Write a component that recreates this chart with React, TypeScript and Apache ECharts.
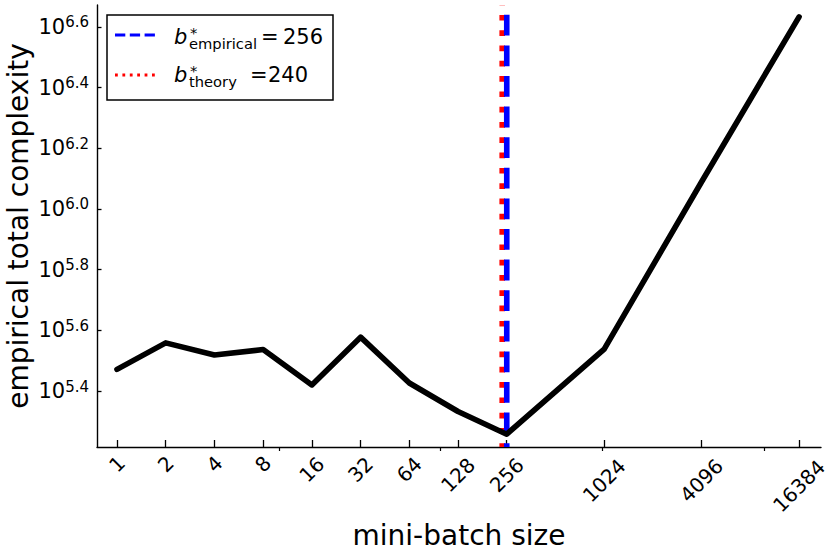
import React, { useEffect, useRef } from "react";
import * as echarts from "echarts";

// ---- data ----
const batchSizes = [1, 2, 4, 8, 16, 32, 64, 128, 256, 1024, 4096, 16384];
const complexity = [296000, 362000, 330000, 344000, 263000, 378000, 267000, 215000, 181000, 345000, 1230000, 4300000];
const xTickValues = [1, 2, 4, 8, 16, 32, 64, 128, 256, 1024, 4096, 16384];
const xMinorTickValues = [10, 100, 1000, 10000];
const yTickExponents = [5.4, 5.6, 5.8, 6.0, 6.2, 6.4, 6.6];
const bEmpirical = 256;
const bTheory = 240;
const legendSubscripts = ["empirical", "theory"];
const legendValues = ["256", "240"];

const X_MIN = Math.pow(2, -0.41);
const X_MAX = Math.pow(2, 14.45);
const Y_MIN = Math.pow(10, 5.2154);
const Y_MAX = Math.pow(10, 6.6725);

const FONT = "DejaVu Sans";

export default function App() {
  const ref = useRef<HTMLDivElement>(null);
  useEffect(() => {
    document.body.style.margin = "0";
    if (!ref.current) return;
    const chart = echarts.init(ref.current, null, { renderer: "svg" });

    const xRich: Record<string, any> = {};
    for (let n = 1; n <= 5; n++) {
      const p = 1.414 * (3.5 + 5.5 * n);
      xRich["l" + n] = { fontSize: 20, fontFamily: FONT, color: "#000", padding: [p, p, 0, 0] };
    }

    const legendGraphics: any[] = [
      {
        type: "rect",
        shape: { x: 107, y: 15, width: 226, height: 85 },
        style: { fill: "#fff", stroke: "#000", lineWidth: 1.5 },
        z: 100,
      },
      {
        type: "line",
        shape: { x1: 115, y1: 35, x2: 158, y2: 35 },
        style: { stroke: "#0000ff", lineWidth: 2.8, lineDash: [10.3, 4.5] },
        z: 101,
      },
      {
        type: "line",
        shape: { x1: 115, y1: 75, x2: 158, y2: 75 },
        style: { stroke: "#ff0000", lineWidth: 2.8, lineDash: [2.8, 4.6] },
        z: 101,
      },
    ];
    const baselines = [44, 82];
    const eqX = [261, 250];
    const valX = [283, 268];
    legendSubscripts.forEach((sub, i) => {
      const B = baselines[i];
      const mid = (base: number, fs: number) => base - 0.346 * fs;
      const txt = (text: string, x: number, base: number, fs: number, italic = false) => ({
        type: "text",
        x,
        y: mid(base, fs),
        z: 102,
        style: {
          text,
          fill: "#000",
          fontSize: fs,
          fontFamily: FONT,
          fontStyle: italic ? "italic" : "normal",
          align: "left",
          verticalAlign: "middle",
        },
      });
      legendGraphics.push(txt("b", 174, B, 21, true));
      // superscript "*" stacked over the subscript, as one two-line rich text
      legendGraphics.push({
        type: "text",
        x: 189,
        y: B - 6.1,
        z: 102,
        style: {
          text: `{sup|*}\n{sub|${sub}}`,
          align: "left",
          verticalAlign: "middle",
          rich: {
            sup: { fontSize: 14.7, fontFamily: FONT, fill: "#000", lineHeight: 11, padding: [0, 0, 0, 1] },
            sub: { fontSize: 14.7, fontFamily: FONT, fill: "#000", lineHeight: 11 },
          },
        },
      });
      legendGraphics.push(txt("=", eqX[i], B, 21));
      legendGraphics.push(txt(legendValues[i], valX[i], B, 21));
    });

    const option: any = {
      animation: false,
      backgroundColor: "#fff",
      grid: { left: 97, right: 9, top: 5, bottom: 107, containLabel: false, outerBoundsMode: "none" },
      xAxis: [
        {
          type: "log",
          logBase: 2,
          min: X_MIN,
          max: X_MAX,
          name: "mini-batch size",
          nameLocation: "middle",
          nameGap: 74,
          nameMoveOverlap: false,
          nameTextStyle: { fontSize: 28, fontFamily: FONT, color: "#000" },
          axisLine: { show: true, onZero: false, lineStyle: { color: "#000", width: 1.4 } },
          axisTick: { show: true, inside: true, length: 7, customValues: xTickValues, lineStyle: { color: "#000", width: 1.3 } },
          axisLabel: {
            customValues: xTickValues,
            rotate: 45,
            align: "center",
            verticalAlign: "middle",
            margin: 8,
            formatter: (v: number) => {
              const t = String(Math.round(v));
              return `{l${t.length}|${t}}`;
            },
            rich: xRich,
          },
          splitLine: { show: false },
          minorTick: { show: false },
        },
        {
          type: "log",
          logBase: 2,
          min: X_MIN,
          max: X_MAX,
          position: "bottom",
          axisLine: { show: false, onZero: false },
          axisTick: { show: true, inside: false, length: 4, customValues: xMinorTickValues, lineStyle: { color: "#000", width: 1.2 } },
          axisLabel: { show: false },
          splitLine: { show: false },
        },
      ],
      yAxis: {
        type: "log",
        logBase: 10,
        min: Y_MIN,
        max: Y_MAX,
        name: "empirical total complexity",
        nameLocation: "middle",
        nameGap: 65,
        nameMoveOverlap: false,
        nameTextStyle: { fontSize: 28, fontFamily: FONT, color: "#000" },
        axisLine: { show: true, lineStyle: { color: "#000", width: 1.4 } },
        axisTick: {
          show: true,
          inside: true,
          length: 4.5,
          customValues: yTickExponents.map((e) => Math.pow(10, e)),
          lineStyle: { color: "#000", width: 1.3 },
        },
        axisLabel: {
          customValues: yTickExponents.map((e) => Math.pow(10, e)),
          margin: 8,
          formatter: (v: number) => `{b|10}{s|${Math.log10(v).toFixed(1)}}`,
          rich: {
            b: { fontSize: 21, fontFamily: FONT, color: "#000" },
            s: { fontSize: 15, fontFamily: FONT, color: "#000", padding: [0, 0, 9, 0] },
          },
        },
        splitLine: { show: false },
      },
      series: [
        {
          type: "line",
          name: "theory",
          data: [
            [bTheory, Y_MIN],
            [bTheory, Y_MAX],
          ],
          symbol: "none",
          silent: true,
          z: 2,
          lineStyle: { color: "#ff0000", width: 5.6, type: [5.7, 9.6], dashOffset: 2.1, cap: "butt" },
        },
        {
          type: "line",
          name: "empirical",
          data: [
            [bEmpirical, Y_MIN],
            [bEmpirical, Y_MAX],
          ],
          symbol: "none",
          silent: true,
          z: 3,
          lineStyle: { color: "#0000ff", width: 5.6, type: [20.8, 9.8], dashOffset: 17.2, cap: "butt" },
        },
        {
          type: "line",
          name: "complexity",
          data: batchSizes.map((b, i) => [b, complexity[i]]),
          symbol: "none",
          silent: true,
          z: 4,
          lineStyle: { color: "#000", width: 5.6, cap: "round", join: "round" },
        },
      ],
      graphic: legendGraphics,
    };
    chart.setOption(option);
    return () => chart.dispose();
  }, []);
  return <div ref={ref} style={{ width: 830, height: 554 }} />;
}
